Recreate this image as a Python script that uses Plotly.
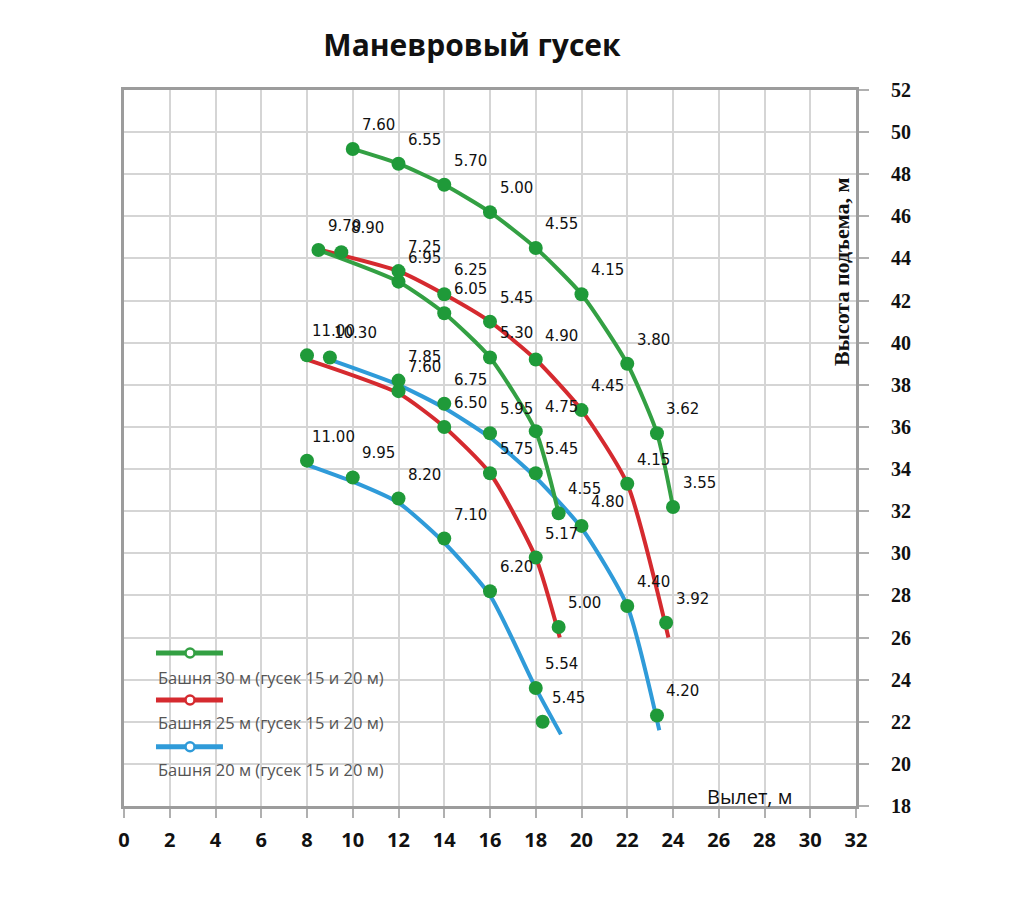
import plotly.graph_objects as go

# ---------------- data ----------------
x_ticks = list(range(0, 33, 2))
y_ticks = list(range(18, 53, 2))

# Tower 30 m, jib 20 m (green, upper)
t30j20_x = [10, 12, 14, 16, 18, 20, 22, 23.3, 24]
t30j20_y = [49.2, 48.5, 47.5, 46.2, 44.5, 42.3, 39.0, 35.7, 32.2]
t30j20_load = ["7.60", "6.55", "5.70", "5.00", "4.55", "4.15", "3.80", "3.62", "3.55"]
t30j20_line_x = [10, 12, 14, 16, 18, 20, 22, 23.3, 24]
t30j20_line_y = [49.2, 48.5, 47.5, 46.2, 44.5, 42.3, 39.0, 35.7, 32.2]

# Tower 30 m, jib 15 m (green, lower)
t30j15_x = [8.5, 12, 14, 16, 18, 19]
t30j15_y = [44.4, 42.9, 41.4, 39.3, 35.8, 31.9]
t30j15_load = ["9.70", "6.95", "6.05", "5.30", "4.75", "4.55"]
t30j15_line_x = [8.5, 12, 14, 16, 18, 19]
t30j15_line_y = [44.4, 42.9, 41.4, 39.3, 35.8, 31.9]

# Tower 25 m, jib 20 m (red, upper)
t25j20_x = [9.5, 12, 14, 16, 18, 20, 22, 23.7]
t25j20_y = [44.3, 43.4, 42.3, 41.0, 39.2, 36.8, 33.3, 26.7]
t25j20_load = ["8.90", "7.25", "6.25", "5.45", "4.90", "4.45", "4.15", "3.92"]
t25j20_line_x = [8.6, 12, 14, 16, 18, 20, 22, 23.8]
t25j20_line_y = [44.4, 43.4, 42.3, 41.0, 39.2, 36.8, 33.3, 26.0]

# Tower 25 m, jib 15 m (red, lower)
t25j15_x = [8, 12, 14, 16, 18, 19]
t25j15_y = [39.4, 37.7, 36.0, 33.8, 29.8, 26.5]
t25j15_load = ["11.00", "7.60", "6.50", "5.75", "5.17", "5.00"]
t25j15_line_x = [8, 12, 14, 16, 18, 19.05]
t25j15_line_y = [39.2, 37.6, 36.0, 33.8, 29.8, 26.0]

# Tower 20 m, jib 20 m (blue, upper)
t20j20_x = [9, 12, 14, 16, 18, 20, 22, 23.3]
t20j20_y = [39.3, 38.2, 37.1, 35.7, 33.8, 31.3, 27.5, 22.3]
t20j20_load = ["10.30", "7.85", "6.75", "5.95", "5.45", "4.80", "4.40", "4.20"]
t20j20_line_x = [9, 12, 14, 16, 18, 20, 22, 23.4]
t20j20_line_y = [39.2, 38.0, 36.9, 35.5, 33.6, 31.2, 27.5, 21.6]

# Tower 20 m, jib 15 m (blue, lower)
t20j15_x = [8, 10, 12, 14, 16, 18, 18.3]
t20j15_y = [34.4, 33.6, 32.6, 30.7, 28.2, 23.6, 22.0]
t20j15_load = ["11.00", "9.95", "8.20", "7.10", "6.20", "5.54", "5.45"]
t20j15_line_x = [8, 10, 12, 14, 16, 18, 19.1]
t20j15_line_y = [34.2, 33.4, 32.4, 30.5, 28.0, 23.6, 21.4]

legend_names = ["Башня 30 м (гусек 15 и 20 м)",
                "Башня 25 м (гусек 15 и 20 м)",
                "Башня 20 м (гусек 15 и 20 м)"]

# ---------------- styles ----------------
GREEN = "#33a043"
RED = "#d52a2f"
BLUE = "#2f9bd9"
MARKER = "#1f9a39"

curves = [
    (t20j15_x, t20j15_y, t20j15_load, t20j15_line_x, t20j15_line_y, BLUE),
    (t20j20_x, t20j20_y, t20j20_load, t20j20_line_x, t20j20_line_y, BLUE),
    (t25j15_x, t25j15_y, t25j15_load, t25j15_line_x, t25j15_line_y, RED),
    (t25j20_x, t25j20_y, t25j20_load, t25j20_line_x, t25j20_line_y, RED),
    (t30j15_x, t30j15_y, t30j15_load, t30j15_line_x, t30j15_line_y, GREEN),
    (t30j20_x, t30j20_y, t30j20_load, t30j20_line_x, t30j20_line_y, GREEN),
]

fig = go.Figure()

# lines
for px, py, lab, lx, ly, col in curves:
    fig.add_trace(go.Scatter(
        x=lx, y=ly, mode="lines",
        line=dict(color=col, width=4, shape="spline", smoothing=0.6),
        hoverinfo="skip", showlegend=False))

# markers
for px, py, lab, lx, ly, col in curves:
    fig.add_trace(go.Scatter(
        x=px, y=py, mode="markers",
        marker=dict(color=MARKER, size=14, line=dict(width=0)),
        text=lab, hovertemplate="%{x} м, %{y} м: %{text} т<extra></extra>",
        showlegend=False))

annotations = []
for px, py, lab, lx, ly, col in curves:
    for xv, yv, t in zip(px, py, lab):
        annotations.append(dict(
            x=xv, y=yv, xref="x", yref="y", text=t, showarrow=False,
            xshift=26, yshift=24,
            font=dict(family="DejaVu Sans", size=15, color="#111111")))

# axis titles
annotations.append(dict(
    x=0.855, y=0.0126, xref="paper", yref="paper", text="Вылет, м",
    showarrow=False, xanchor="center", yanchor="middle",
    font=dict(family="Open Sans", size=20, color="#111111", weight=500)))
annotations.append(dict(
    x=0.981, y=0.746, xref="paper", yref="paper", text="Высота подъема, м",
    showarrow=False, textangle=-90, xanchor="center", yanchor="middle",
    font=dict(family="Liberation Serif", size=22, color="#111111", weight="bold")))

# custom legend (symbol above text)
shapes = []
leg_line_y = [0.2137, 0.148, 0.0828]
leg_text_y = [0.180, 0.116, 0.0503]
for name, col, ly_, ty_ in zip(legend_names, [GREEN, RED, BLUE], leg_line_y, leg_text_y):
    shapes.append(dict(type="line", xref="paper", yref="paper",
                       x0=0.0437, x1=0.1352, y0=ly_, y1=ly_,
                       line=dict(color=col, width=5)))
    shapes.append(dict(type="circle", xref="paper", yref="paper",
                       xsizemode="pixel", ysizemode="pixel",
                       xanchor=0.0902, yanchor=ly_,
                       x0=-4.5, x1=4.5, y0=-4.5, y1=4.5,
                       fillcolor="white", line=dict(color=col, width=2.5)))
    annotations.append(dict(
        x=0.0437, y=ty_, xref="paper", yref="paper", text=name,
        showarrow=False, xanchor="left", yanchor="middle",
        font=dict(family="Open Sans", size=16.5, color="#555555")))

fig.update_layout(
    width=1034, height=901, autosize=False,
    margin=dict(l=124, r=178, t=90, b=95),
    paper_bgcolor="white", plot_bgcolor="white",
    title=dict(text="Маневровый гусек", xref="container", yref="container",
               x=0.4565, y=0.95, xanchor="center", yanchor="middle",
               font=dict(family="Open Sans", size=30, color="#111111", weight="bold")),
    annotations=annotations, shapes=shapes,
    showlegend=False,
)

fig.update_xaxes(
    range=[0, 32], tickvals=x_ticks, ticktext=[str(v) for v in x_ticks],
    showgrid=True, gridcolor="#d5d5d5", gridwidth=1.5,
    showline=True, linecolor="#9c9c9c", linewidth=3, mirror=True,
    ticks="outside", ticklen=9, tickwidth=2, tickcolor="#b0b0b0",
    ticklabelstandoff=5, zeroline=False,
    tickfont=dict(family="Open Sans", size=20, color="#111111", weight="bold"))

fig.update_yaxes(
    range=[18, 52], tickvals=y_ticks, ticktext=[str(v) for v in y_ticks],
    side="right",
    showgrid=True, gridcolor="#d5d5d5", gridwidth=1.5,
    showline=True, linecolor="#9c9c9c", linewidth=3, mirror=True,
    ticks="outside", ticklen=10, tickwidth=2, tickcolor="#b0b0b0",
    ticklabelstandoff=18, zeroline=False,
    tickfont=dict(family="Liberation Serif", size=20, color="#111111", weight="bold"))

fig.write_html("out.html", config={"displayModeBar": False},
               post_script="document.body.style.margin='0px';")
